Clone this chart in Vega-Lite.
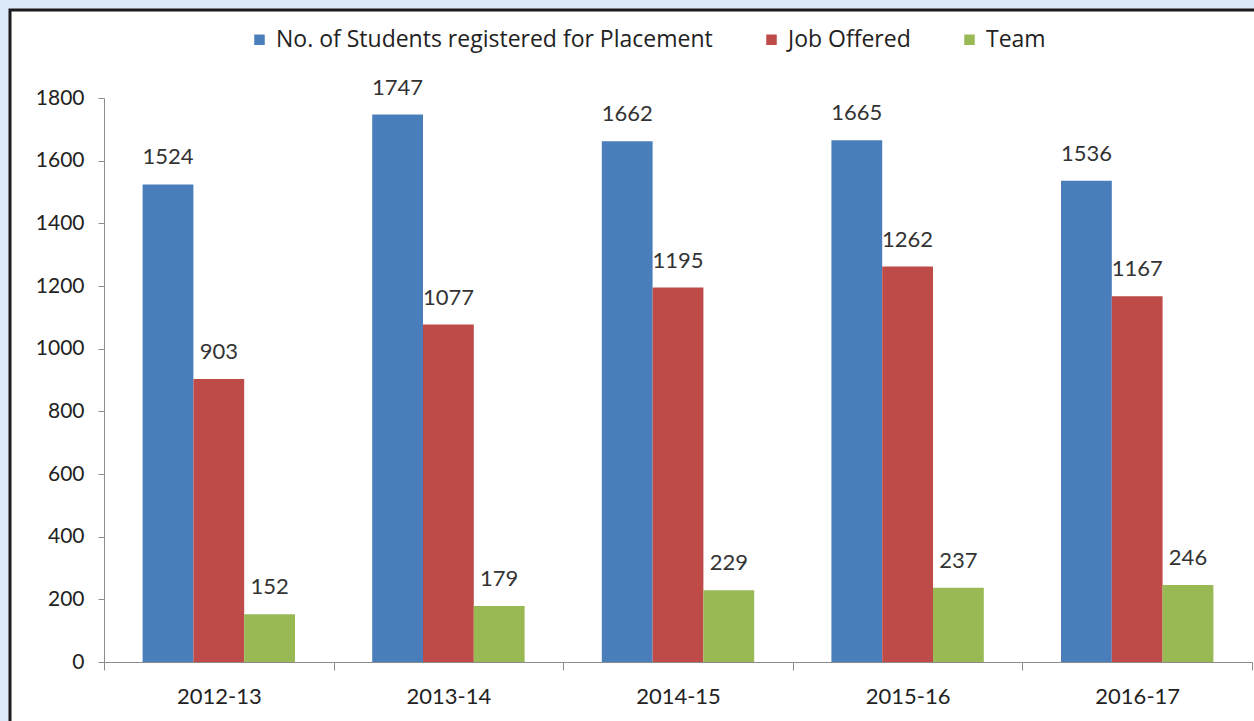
{
  "$schema": "https://vega.github.io/schema/vega-lite/v6.json",
  "width": 1250,
  "height": 715,
  "autosize": {"type": "none"},
  "padding": {"left": 10, "top": 10, "right": 0, "bottom": 0},
  "background": "#dce9f6",
  "config": {
    "view": {"fill": "white", "stroke": "#1b1b1b", "strokeWidth": 3},
    "font": "Lato"
  },
  "data": {
    "values": [
      {"year": "2012-13", "series": "No. of Students registered for Placement", "value": 1524},
      {"year": "2012-13", "series": "Job Offered", "value": 903},
      {"year": "2012-13", "series": "Team", "value": 152},
      {"year": "2013-14", "series": "No. of Students registered for Placement", "value": 1747},
      {"year": "2013-14", "series": "Job Offered", "value": 1077},
      {"year": "2013-14", "series": "Team", "value": 179},
      {"year": "2014-15", "series": "No. of Students registered for Placement", "value": 1662},
      {"year": "2014-15", "series": "Job Offered", "value": 1195},
      {"year": "2014-15", "series": "Team", "value": 229},
      {"year": "2015-16", "series": "No. of Students registered for Placement", "value": 1665},
      {"year": "2015-16", "series": "Job Offered", "value": 1262},
      {"year": "2015-16", "series": "Team", "value": 237},
      {"year": "2016-17", "series": "No. of Students registered for Placement", "value": 1536},
      {"year": "2016-17", "series": "Job Offered", "value": 1167},
      {"year": "2016-17", "series": "Team", "value": 246}
    ]
  },
  "encoding": {
    "x": {
      "field": "year",
      "type": "nominal",
      "sort": null,
      "scale": {"range": [94, 1242], "paddingInner": 0, "paddingOuter": 0},
      "axis": {
        "title": null,
        "labelAngle": 0,
        "labelFontSize": 22,
        "labelColor": "#222222",
        "tickBand": "extent",
        "tickSize": 8,
        "tickColor": "#8c8c8c",
        "domainColor": "#8c8c8c",
        "labelPadding": 16,
        "offset": -63
      }
    },
    "xOffset": {
      "field": "series",
      "type": "nominal",
      "sort": ["No. of Students registered for Placement", "Job Offered", "Team"],
      "scale": {"paddingInner": 0, "paddingOuter": 0.76}
    },
    "y": {
      "field": "value",
      "type": "quantitative",
      "scale": {"domain": [0, 1800], "range": [652, 88], "nice": false},
      "axis": {
        "title": null,
        "grid": false,
        "values": [0, 200, 400, 600, 800, 1000, 1200, 1400, 1600, 1800],
        "format": "d",
        "tickSize": 6,
        "tickColor": "#8c8c8c",
        "domainColor": "#8c8c8c",
        "labelPadding": 14,
        "labelFontSize": 21,
        "labelColor": "#222222",
        "offset": -94
      }
    }
  },
  "layer": [
    {
      "mark": {"type": "bar"},
      "encoding": {
        "color": {
          "field": "series",
          "type": "nominal",
          "scale": {
            "domain": ["No. of Students registered for Placement", "Job Offered", "Team"],
            "range": ["#4a7ebb", "#be4b48", "#98b954"]
          },
          "legend": {
            "orient": "none",
            "legendX": 238,
            "legendY": 18,
            "direction": "horizontal",
            "columns": 3,
            "title": null,
            "symbolType": "square",
            "symbolSize": 110,
            "symbolStrokeWidth": 0,
            "labelFont": "Open Sans",
            "labelFontSize": 23,
            "labelColor": "#222222",
            "labelLimit": 600,
            "labelOffset": 5,
            "columnPadding": 47
          }
        }
      }
    },
    {
      "mark": {"type": "text", "baseline": "alphabetic", "dy": -20, "fontSize": 22, "color": "#333333"},
      "encoding": {"text": {"field": "value", "type": "quantitative"}}
    }
  ]
}
